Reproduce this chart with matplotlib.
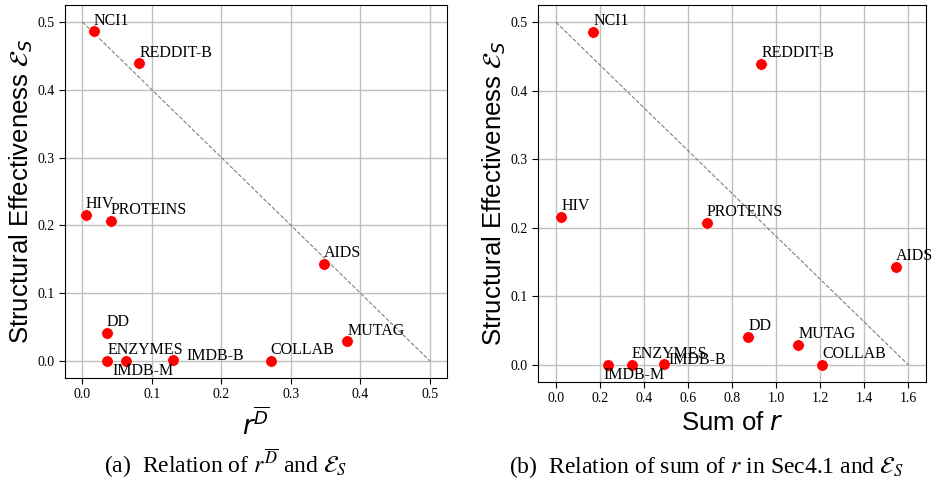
import matplotlib
matplotlib.use("Agg")
import matplotlib.pyplot as plt

names = ["NCI1", "REDDIT-B", "HIV", "PROTEINS", "AIDS", "DD", "MUTAG",
         "ENZYMES", "IMDB-M", "IMDB-B", "COLLAB"]
r_dbar = [0.016, 0.082, 0.005, 0.041, 0.348, 0.035, 0.381,
          0.036, 0.063, 0.130, 0.271]
sum_r = [0.170, 0.932, 0.024, 0.685, 1.545, 0.873, 1.101,
         0.345, 0.236, 0.490, 1.208]
eff_s = [0.486, 0.439, 0.216, 0.207, 0.143, 0.041, 0.029,
         0.000, 0.000, 0.002, 0.000]

# label offsets in data units (dx, dy)
label_offset = {"IMDB-B": (0.02, 0.0), "IMDB-M": (-0.02, -0.02)}

plt.rcParams['font.family'] = ['Liberation Serif', 'DejaVu Serif']
plt.rcParams['xtick.labelsize'] = 10
plt.rcParams['ytick.labelsize'] = 10

fig = plt.figure(figsize=(9.33, 4.83), dpi=100)
ax1 = fig.add_axes([0.0697, 0.2174, 0.4098, 0.7723])
ax2 = fig.add_axes([0.577, 0.209, 0.4155, 0.7805])


def draw(ax, xs, x_end, xlabel):
    ax.set_axisbelow(True)
    ax.grid(True, color='#c0c0c0', linewidth=1.0)
    ax.plot([0, x_end], [0.5, 0], linestyle='--', color='gray', linewidth=0.8)
    ax.scatter(xs, eff_s, s=70, color='red', edgecolors='white', linewidths=0.5, zorder=3)
    for n, x, y in zip(names, xs, eff_s):
        dx, dy = label_offset.get(n, (0.0, 0.01))
        ax.text(x + dx, y + dy, n, fontsize=11.5, clip_on=False)
    ax.set_ylabel(r"Structural Effectiveness $\mathcal{E}_S$", fontsize=18.5,
                  family='Liberation Sans', math_fontfamily='dejavusans', labelpad=2)
    ax.set_xlabel(xlabel, fontsize=18.5, family='Liberation Sans',
                  math_fontfamily='dejavusans')
    ax.set_yticks([0.0, 0.1, 0.2, 0.3, 0.4, 0.5])
    ax.tick_params(length=4, color='black')


draw(ax1, r_dbar, 0.5, r"$r^{\overline{D}}$")
draw(ax2, sum_r, 1.6, r"Sum of $r$")
ax1.set_xticks([0.0, 0.1, 0.2, 0.3, 0.4, 0.5])
ax2.set_xticks([0.0, 0.2, 0.4, 0.6, 0.8, 1.0, 1.2, 1.4, 1.6])

fig.text(0.242, 0.02, r"(a)  Relation of $r^{\overline{D}}$ and $\mathcal{E}_S$",
         ha='center', fontsize=17, math_fontfamily='stix')
fig.text(0.757, 0.02, r"(b)  Relation of sum of $r$ in Sec4.1 and $\mathcal{E}_S$",
         ha='center', fontsize=17, math_fontfamily='stix')

fig.savefig("out.png", dpi=100)
